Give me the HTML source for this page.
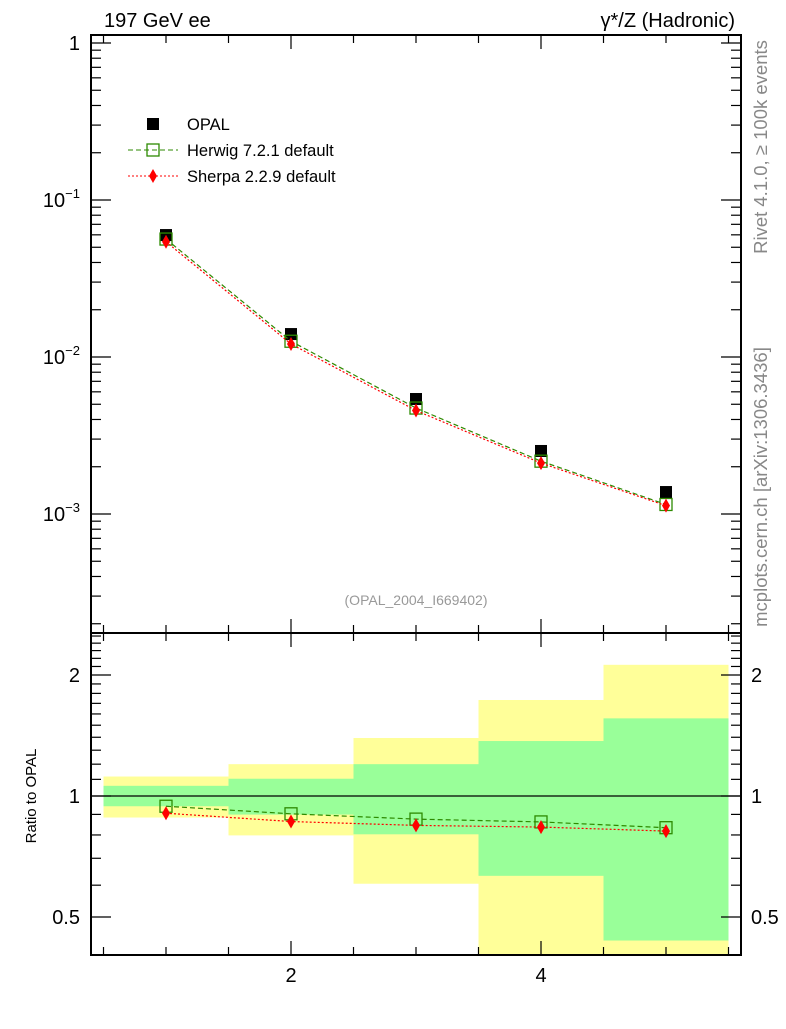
<!DOCTYPE html>
<html><head><meta charset="utf-8"><style>
body{margin:0;background:#fff;}
svg text{font-family:"Liberation Sans",sans-serif;}
</style></head><body>
<svg id="chart" width="786" height="1024" viewBox="0 0 786 1024" xmlns="http://www.w3.org/2000/svg">
<text x="104" y="27" font-size="20">197 GeV ee</text>
<text x="735" y="27" font-size="20" text-anchor="end">γ*/Z (Hadronic)</text>
<text transform="translate(767,147) rotate(-90)" font-size="18.5" fill="#888" text-anchor="middle">Rivet 4.1.0, ≥ 100k events</text>
<text transform="translate(767,487) rotate(-90)" font-size="18.5" fill="#888" text-anchor="middle">mcplots.cern.ch [arXiv:1306.3436]</text>
<text x="416" y="605" font-size="14" fill="#999" text-anchor="middle">(OPAL_2004_I669402)</text>
<text transform="translate(36,796) rotate(-90)" font-size="15" text-anchor="middle">Ratio to OPAL</text>
<g id="bands"></g>
<g id="marks"></g>
<g id="axes"></g>
<g>
<rect x="147" y="118" width="12" height="12" fill="#000"/>
<text x="187" y="130" font-size="16.5">OPAL</text>
<line x1="128" y1="150" x2="178" y2="150" stroke="#2d8a00" stroke-dasharray="5,3"/>
<rect x="147" y="144" width="12" height="12" fill="none" stroke="#2d8a00" stroke-width="1.3"/>
<text x="187" y="156" font-size="16.5">Herwig 7.2.1 default</text>
<line x1="128" y1="176" x2="178" y2="176" stroke="#f00" stroke-dasharray="2,2"/>
<path d="M153,169 L157,176 L153,183 L149,176 Z" fill="#f00"/>
<text x="187" y="182" font-size="16.5">Sherpa 2.2.9 default</text>
</g>
</svg>
<script>
const xCats = [1, 2, 3, 4, 5];
const opal = [0.0598, 0.0140, 0.0054, 0.00252, 0.00138];
const herwig = [0.0564, 0.0126, 0.00473, 0.00217, 0.00115];
const sherpa = [0.0542, 0.0121, 0.00456, 0.00211, 0.00113];
const herwigRatio = [0.943, 0.903, 0.876, 0.862, 0.834];
const sherpaRatio = [0.906, 0.864, 0.845, 0.837, 0.818];
const statUp = [1.06, 1.104, 1.2, 1.37, 1.56];
const statDn = [0.943, 0.899, 0.803, 0.633, 0.437];
const totUp = [1.118, 1.2, 1.394, 1.733, 2.12];
const totDn = [0.884, 0.798, 0.605, 0.35, 0.35];
const xTickLabels = [2, 4];
const mainTickLabels = ["1", "10^-1", "10^-2", "10^-3"];
const ratioTickLabels = ["0.5", "1", "2"];

const NS = "http://www.w3.org/2000/svg";
const L = 91, R = 741, T = 35, MB = 633, B = 955;
const sx = v => 166 + (v - 1) * 125;
const sy = v => 43 - 157 * Math.log10(v);
const ry = v => 796 - 402 * Math.log10(v);
function mk(tag, attrs, parent) {
  const e = document.createElementNS(NS, tag);
  for (const k in attrs) e.setAttribute(k, attrs[k]);
  parent.appendChild(e); return e;
}
const bands = document.getElementById('bands');
const marks = document.getElementById('marks');
const axes = document.getElementById('axes');
const clipR = v => Math.min(Math.max(ry(v), MB), B);

xCats.forEach((x, i) => {
  const x0 = sx(x - 0.5), x1 = sx(x + 0.5);
  let r = mk('rect', {x: x0, y: clipR(totUp[i]), width: x1 - x0, height: clipR(totDn[i]) - clipR(totUp[i]), fill: '#ffff99'}, bands);
  
  
  r = mk('rect', {x: x0, y: clipR(statUp[i]), width: x1 - x0, height: clipR(statDn[i]) - clipR(statUp[i]), fill: '#99ff99'}, bands);
  
  
});
let one = mk('line', {x1: L, x2: R, y1: ry(1), y2: ry(1), stroke: '#000', 'stroke-width': 1.3}, marks);



function series(vals, yf, color, dash, name, marker) {
  const pl = mk('polyline', {points: xCats.map((x, i) => sx(x) + ',' + yf(vals[i])).join(' '), fill: 'none', stroke: color, 'stroke-dasharray': dash, 'stroke-width': 1.2}, marks);
  
  
  xCats.forEach((x, i) => {
    const cx = sx(x), cy = yf(vals[i]); let m;
    if (marker === 'open') m = mk('rect', {x: cx - 6, y: cy - 6, width: 12, height: 12, fill: 'none', stroke: color, 'stroke-width': 1.3}, marks);
    else m = mk('path', {d: `M${cx},${cy-7} L${cx+4},${cy} L${cx},${cy+7} L${cx-4},${cy} Z`, fill: color}, marks);
    
    
  });
}
xCats.forEach((x, i) => {
  const m = mk('rect', {x: sx(x) - 6, y: sy(opal[i]) - 6, width: 12, height: 12, fill: '#000'}, marks);
  
  
});
series(herwig, sy, '#2d8a00', '5,3', 'herwig', 'open');
series(sherpa, sy, '#f00', '2,2', 'sherpa', 'diamond');
series(herwigRatio, ry, '#2d8a00', '5,3', 'herwig-ratio', 'open');
series(sherpaRatio, ry, '#f00', '2,2', 'sherpa-ratio', 'diamond');

[[T, MB], [MB, B]].forEach(([a, b], k) => {
  const f = mk('rect', {x: L, y: a, width: R - L, height: b - a, fill: 'none', stroke: '#000', 'stroke-width': 2}, axes);
  
  
});
function tick(x1, y1, x2, y2) { mk('line', {x1, y1, x2, y2, stroke: '#000', 'stroke-width': 1.2}, axes); }
for (let v = 0.5; v <= 5.5001; v += 0.5) {
  const x = sx(v), big = (v % 2 === 0);
  const len = big ? 14 : 8;
  [[T, 1], [MB, -1], [MB, 1], [B, -1]].forEach(([y, d]) => tick(x, y, x, y + d * len));
}
xTickLabels.forEach(v => {
  const t = mk('text', {x: sx(v), y: 982, 'font-size': 20, 'text-anchor': 'middle'}, axes);
  t.textContent = v;
  
  
});
for (let e = -4; e <= 0; e++) for (let m = 1; m <= 9; m++) {
  const v = m * Math.pow(10, e), y = sy(v);
  if (y < T || y > MB) continue;
  const len = m === 1 ? 20 : 10;
  tick(L, y, L + len, y); tick(R, y, R - len, y);
}
mainTickLabels.forEach((s, i) => {
  const y = sy(Math.pow(10, -i));
  const t = mk('text', {x: 80, y: y + 7, 'font-size': 20, 'text-anchor': 'end'}, axes);
  if (i === 0) t.textContent = '1';
  else {
    t.textContent = '10';
    const sp = mk('tspan', {dy: -9, 'font-size': 13}, t); sp.textContent = '−' + i;
  }
  
  
});
for (let k = 4; k <= 25; k++) {
  const v = k / 10, y = ry(v);
  if (y < MB || y > B) continue;
  const big = (k === 5 || k === 10 || k === 20);
  const len = big ? 20 : 10;
  tick(L, y, L + len, y); tick(R, y, R - len, y);
}
ratioTickLabels.forEach(s => {
  const y = ry(parseFloat(s));
  let t = mk('text', {x: 80, y: y + 7, 'font-size': 20, 'text-anchor': 'end'}, axes);
  t.textContent = s;
  
  
  t = mk('text', {x: 751, y: y + 7, 'font-size': 20}, axes);
  t.textContent = s;
  
  
});
</script>
</body></html>
